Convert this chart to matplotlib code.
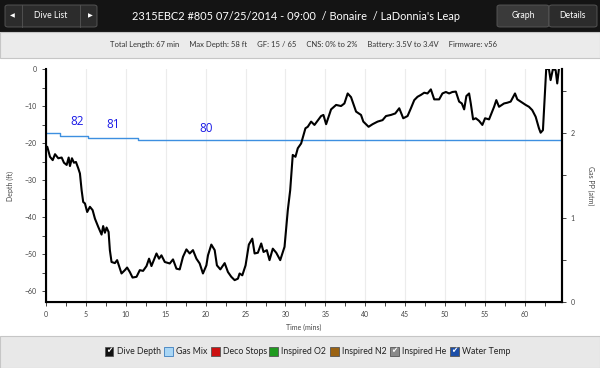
import matplotlib
matplotlib.use("Agg")
import matplotlib.pyplot as plt
from matplotlib.patches import Rectangle, FancyBboxPatch
from matplotlib.ticker import MultipleLocator

plt.rcParams['font.family'] = ['Lato', 'DejaVu Sans']

# dive profile (minutes, feet)
time_min = [0.0, 0.16, 0.5, 0.84, 1.13, 1.54, 1.96, 2.25, 2.59, 2.84, 3.0, 3.25, 3.5, 3.75, 4.04,
            4.25, 4.46, 4.66, 4.88, 5.16, 5.5, 5.84, 6.13, 6.54, 6.96, 7.16, 7.38, 7.59, 7.84,
            8.0, 8.21, 8.63, 8.91, 9.16, 9.46, 9.88, 10.16, 10.5, 10.84, 11.34, 11.75, 12.16,
            12.59, 12.91, 13.21, 13.84, 14.16, 14.46, 14.88, 15.5, 15.91, 16.34, 16.75, 17.16,
            17.59, 18.0, 18.41, 18.84, 19.25, 19.66, 20.09, 20.29, 20.71, 21.13, 21.41, 21.84,
            22.38, 22.79, 23.21, 23.63, 24.04, 24.25, 24.59, 25.0, 25.41, 25.84, 26.13, 26.54,
            26.96, 27.25, 27.66, 28.0, 28.41, 28.84, 29.34, 29.88, 30.29, 30.59, 30.91, 31.25,
            31.54, 31.96, 32.5, 32.79, 33.21, 33.63, 34.46, 34.75, 35.09, 35.71, 36.34, 36.96,
            37.38, 37.79, 38.21, 38.84, 39.46, 39.75, 40.41, 40.91, 41.54, 42.16, 42.59, 43.21,
            43.75, 44.25, 44.75, 45.29, 45.71, 46.13, 46.54, 46.96, 47.38, 47.79, 48.21, 48.63,
            49.25, 49.66, 50.09, 50.5, 50.91, 51.34, 51.75, 52.09, 52.38, 52.66, 53.0, 53.21,
            53.5, 53.84, 54.25, 54.66, 55.0, 55.5, 56.13, 56.41, 56.75, 57.38, 57.79, 58.21,
            58.75, 59.04, 59.46, 60.09, 60.5, 60.91, 61.34, 61.75, 61.96, 62.25, 62.5, 62.66,
            63.0, 63.21, 63.5, 63.84, 64.04, 64.25]
depth_ft = [-21.0, -21.0, -23.7, -24.6, -23.0, -24.1, -23.9, -25.3, -25.9, -23.9, -26.2, -24.1,
            -25.3, -25.1, -26.8, -28.2, -32.7, -35.9, -36.3, -38.6, -37.2, -38.1, -40.4, -42.6,
            -44.7, -42.4, -44.2, -42.8, -44.0, -48.9, -52.1, -52.4, -51.6, -53.2, -55.2, -54.3,
            -53.6, -54.8, -56.3, -56.1, -54.3, -54.5, -53.2, -51.2, -53.2, -49.8, -51.2, -50.3,
            -52.1, -52.5, -51.4, -53.9, -54.1, -50.7, -48.7, -49.8, -48.9, -51.2, -52.5, -55.2,
            -53.0, -50.3, -47.4, -48.9, -53.0, -54.1, -52.4, -54.8, -56.1, -57.0, -56.6, -55.2,
            -55.7, -53.0, -47.4, -45.8, -49.8, -49.6, -47.1, -49.4, -48.9, -51.6, -48.5, -49.6,
            -51.6, -48.0, -38.1, -32.7, -23.2, -23.7, -21.4, -20.1, -16.0, -15.6, -14.2, -15.1,
            -12.7, -12.4, -14.9, -10.9, -9.7, -10.0, -9.3, -6.6, -7.6, -11.5, -12.4, -14.2,
            -15.6, -14.9, -14.2, -13.8, -12.7, -12.4, -12.0, -10.6, -13.3, -12.7, -10.6, -8.4,
            -7.5, -7.0, -6.4, -6.6, -5.5, -8.2, -8.2, -6.6, -6.2, -6.6, -6.2, -6.1, -8.8, -9.3,
            -10.9, -7.3, -6.6, -9.3, -13.6, -13.3, -14.0, -15.1, -13.3, -13.6, -10.2, -8.4,
            -10.2, -9.3, -9.1, -8.8, -6.6, -8.2, -8.8, -9.7, -10.2, -11.1, -12.9, -16.0, -17.2,
            -16.5, -6.6, 0.0, 0.0, -3.0, 0.0, -0.3, -3.9, 0.0]

# water temperature trace (drawn on the depth scale) and its labels
temp_time = [0.0, 1.7, 5.2, 11.5, 64.6]
temp_line = [-17.3, -18.0, -18.5, -19.3, -19.3]
temp_labels = ["82", "81", "80"]
temp_label_t = [3.9, 8.4, 20.1]
temp_label_y = [-14.3, -14.9, -16.0]

title = "2315EBC2 #805 07/25/2014 - 09:00  / Bonaire  / LaDonnia's Leap"
info = ("Total Length: 67 min     Max Depth: 58 ft     GF: 15 / 65     CNS: 0% to 2%     "
        "Battery: 3.5V to 3.4V     Firmware: v56")
legend_names = ["Dive Depth", "Gas Mix", "Deco Stops", "Inspired O2", "Inspired N2",
                "Inspired He", "Water Temp"]
legend_colors = ["#111111", "#a9d6f5", "#cc1010", "#1f9a1f", "#9a6212", "#8a8a8a", "#1d4fa8"]
legend_checked = [True, False, False, False, False, True, True]

W, H = 600, 368
fig = plt.figure(figsize=(6, 3.68), dpi=100)

def px(x, y, w, h):
    return (x / W, 1 - (y + h) / H, w / W, h / H)

# header bars
x0, y0, w0, h0 = px(0, 0, 600, 32)
fig.patches.append(Rectangle((x0, y0), w0, h0, transform=fig.transFigure, fc="#141414", ec="none"))
x0, y0, w0, h0 = px(0, 32, 600, 26)
fig.patches.append(Rectangle((x0, y0), w0, h0, transform=fig.transFigure, fc="#ebebeb", ec="#c6c6c6", lw=0.8))
x0, y0, w0, h0 = px(0, 336, 600, 32)
fig.patches.append(Rectangle((x0, y0), w0, h0, transform=fig.transFigure, fc="#e8e8e8", ec="#c6c6c6", lw=0.8))

# nav buttons
for bx, bw, fc in [(5, 92, "#2c2c2c"), (497, 52, "#3a3a3a"), (549, 48, "#2c2c2c")]:
    x0, y0, w0, h0 = px(bx, 5, bw, 22)
    fig.patches.append(FancyBboxPatch((x0, y0), w0, h0, boxstyle="round,pad=0,rounding_size=0.005",
                                      transform=fig.transFigure, fc=fc, ec="#5a5a5a", lw=0.6))
for lx in [22, 80]:
    fig.lines.append(plt.Line2D([lx / W, lx / W], [1 - 5 / H, 1 - 27 / H], transform=fig.transFigure,
                                color="#555555", lw=0.6))
fig.text(12 / W, 1 - 16 / H, "\u25c0", color="white", fontsize=4.5, ha="center", va="center",
         family=["DejaVu Sans"])
fig.text(90 / W, 1 - 16 / H, "\u25b6", color="white", fontsize=4.5, ha="center", va="center",
         family=["DejaVu Sans"])
fig.text(51 / W, 1 - 16 / H, "Dive List", color="white", fontsize=6.2, ha="center", va="center")
fig.text(523 / W, 1 - 16 / H, "Graph", color="white", fontsize=6.2, ha="center", va="center")
fig.text(573 / W, 1 - 16 / H, "Details", color="white", fontsize=6.2, ha="center", va="center")
fig.text(296 / W, 1 - 16 / H, title, color="white", fontsize=7.9, ha="center", va="center")
fig.text(303 / W, 1 - 45 / H, info, color="#333333", fontsize=5.5, ha="center", va="center")

# main chart
ax = fig.add_axes([46 / W, 1 - 302 / H, (561.7 - 46) / W, (302 - 69) / H])
ax.plot(temp_time, temp_line, color="#3d8fe0", lw=1, drawstyle="steps-post", zorder=2)
ax.plot(time_min, depth_ft, color="black", lw=1.5, zorder=3)
for lab, t, y in zip(temp_labels, temp_label_t, temp_label_y):
    ax.text(t, y, lab, color="#1a1ae6", fontsize=8.5, ha="center", va="center",
            family=["Open Sans", "DejaVu Sans"])

ax.set_xlim(0, 64.6)
ax.set_ylim(-62.9, 0)
ax.xaxis.set_major_locator(MultipleLocator(5))
ax.xaxis.set_minor_locator(MultipleLocator(2.5))
ax.yaxis.set_major_locator(MultipleLocator(10))
ax.yaxis.set_minor_locator(MultipleLocator(5))
ax.grid(axis="x", which="major", color="#ececec", lw=0.8, zorder=0)
ax.spines["top"].set_visible(False)
for s in ["left", "bottom", "right"]:
    ax.spines[s].set_linewidth(1.5)
ax.tick_params(which="both", labelsize=5, colors="#444444", length=3, width=0.7, direction="out")
ax.set_xlabel("Time (mins)", fontsize=5, color="#444444", labelpad=6)
ax.xaxis.set_label_coords(0.5, -0.095)
ax.set_ylabel("Depth (ft)", fontsize=5, color="#444444", labelpad=8)

ax2 = ax.twinx()
ax2.set_ylim(0, 2.76)
ax2.yaxis.set_major_locator(MultipleLocator(1))
ax2.yaxis.set_minor_locator(MultipleLocator(0.5))
ax2.spines["top"].set_visible(False)
ax2.spines["right"].set_linewidth(1.5)
ax2.tick_params(which="both", labelsize=5, colors="#444444", length=3, width=0.7, direction="out")
ax2.set_ylabel("Gas PP (atm)", fontsize=5, color="#444444", rotation=270, labelpad=14)

# legend strip with checkboxes
box_x = [109, 168, 215, 273, 334, 394, 454]
for bx, name, c, chk in zip(box_x, legend_names, legend_colors, legend_checked):
    x0, y0, w0, h0 = px(bx - 4.5, 346.5, 9, 9)
    fig.patches.append(Rectangle((x0, y0), w0, h0, transform=fig.transFigure, fc=c,
                                 ec="#555555" if c != "#a9d6f5" else "#3d7fbf", lw=0.6))
    if chk:
        fig.text(bx / W, 1 - 351 / H, "\u2714", color="white", fontsize=5.5, ha="center",
                 va="center", family=["DejaVu Sans"])
    fig.text((bx + 8) / W, 1 - 351 / H, name, color="#222222", fontsize=6.3, ha="left", va="center")

fig.savefig("out.png", dpi=100)
